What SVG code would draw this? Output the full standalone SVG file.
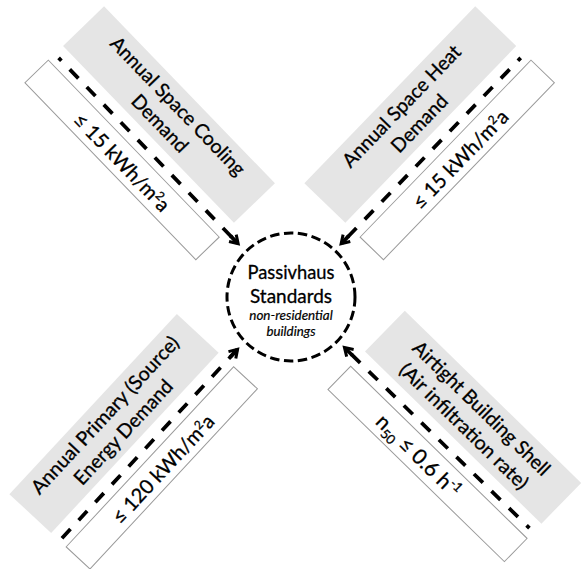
<svg xmlns="http://www.w3.org/2000/svg" width="583" height="569" viewBox="0 0 583 569">
<style>
  .bg{fill:#ffffff}
  .gray{fill:#e5e5e5;stroke:none}
  .box{fill:#ffffff;stroke:#9a9a9a;stroke-width:1}
  .lbl{font-family:Lato,"Liberation Sans",sans-serif;font-size:19.5px;fill:#000;stroke:#000;stroke-width:0.3;text-anchor:middle}
  .val{font-family:Lato,"Liberation Sans",sans-serif;font-size:20px;fill:#000;stroke:#000;stroke-width:0.3;text-anchor:middle}
  .main{font-family:Lato,"Liberation Sans",sans-serif;font-size:19.5px;fill:#000;stroke:#000;stroke-width:0.3;text-anchor:middle}
  .it{font-family:Lato,"Liberation Sans",sans-serif;font-size:13px;font-style:italic;fill:#000;stroke:#000;stroke-width:0.2;text-anchor:middle}
  .sup{font-size:12px}
  .conn{fill:none;stroke:#000;stroke-width:3.75;stroke-dasharray:12.5 12;marker-end:url(#arr)}
  .ring{fill:none;stroke:#000;stroke-width:3;stroke-dasharray:9.5 4.5}
</style>
<defs>
  <marker id="arr" viewBox="-13 -7 16 14" refX="0" refY="0" markerWidth="16" markerHeight="14" markerUnits="userSpaceOnUse" orient="auto" overflow="visible">
    <path d="M-11,0 L-1,0" fill="none" stroke="#000" stroke-width="3.75" stroke-dasharray="none"/>
    <path d="M-8,-5 L0,0 L-8,5" fill="none" stroke="#000" stroke-width="3" stroke-dasharray="none"/>
  </marker>
</defs>
<rect class="bg" x="0" y="0" width="583" height="569"/>

<!-- Top-left arm -->
<g id="node-cooling" transform="translate(60,59.3) rotate(46)">
  <rect class="gray" x="-7.5" y="-68.5" width="246" height="57"/>
  <text class="lbl" x="115.5" y="-45.5" textLength="184" lengthAdjust="spacingAndGlyphs">Annual Space Cooling</text>
  <text class="lbl" x="115.5" y="-20.5" textLength="72" lengthAdjust="spacingAndGlyphs">Demand</text>
</g>
<g id="value-cooling" transform="translate(60,59.3) rotate(46)">
  <rect class="box" x="-7.5" y="9" width="246" height="32.5"/>
  <text class="val" x="117" y="34">≤ 15 kWh/m<tspan class="sup" dy="-7">2</tspan><tspan dy="7">a</tspan></text>
</g>

<!-- Top-right arm -->
<g id="node-heat" transform="translate(519.3,59.3) rotate(-46)">
  <rect class="gray" x="-238.5" y="-68.5" width="246" height="57"/>
  <text class="lbl" x="-115.5" y="-45.5" textLength="161" lengthAdjust="spacingAndGlyphs">Annual Space Heat</text>
  <text class="lbl" x="-115.5" y="-20.5" textLength="72" lengthAdjust="spacingAndGlyphs">Demand</text>
</g>
<g id="value-heat" transform="translate(519.3,59.3) rotate(-46)">
  <rect class="box" x="-238.5" y="9" width="246" height="32.5"/>
  <text class="val" x="-113" y="34">≤ 15 kWh/m<tspan class="sup" dy="-7">2</tspan><tspan dy="7">a</tspan></text>
</g>

<!-- Bottom-left arm -->
<g id="node-primary" transform="translate(64,536) rotate(-47.1)">
  <rect class="gray" x="-6.5" y="-68.5" width="246" height="57"/>
  <text class="lbl" x="116.5" y="-45.5" textLength="207" lengthAdjust="spacingAndGlyphs">Annual Primary (Source)</text>
  <text class="lbl" x="116.5" y="-20.5" textLength="135" lengthAdjust="spacingAndGlyphs">Energy Demand</text>
</g>
<g id="value-primary" transform="translate(64,536) rotate(-47.1)">
  <rect class="box" x="-6.5" y="9" width="246" height="32.5"/>
  <text class="val" x="116.5" y="34">≤ 120 kWh/m<tspan class="sup" dy="-7">2</tspan><tspan dy="7">a</tspan></text>
</g>

<!-- Bottom-right arm -->
<g id="node-airtight" transform="translate(528,526.7) rotate(44.3)">
  <rect class="gray" x="-239" y="-68.5" width="246.5" height="57"/>
  <text class="lbl" x="-116" y="-45.5" textLength="183" lengthAdjust="spacingAndGlyphs">Airtight Building Shell</text>
  <text class="lbl" x="-116" y="-20.5" textLength="171" lengthAdjust="spacingAndGlyphs">(Air infiltration rate)</text>
</g>
<g id="value-airtight" transform="translate(528,526.7) rotate(44.3)">
  <rect class="box" x="-239" y="9" width="246.5" height="32.5"/>
  <text class="val" x="-128" y="33" style="font-size:21px">n<tspan class="sup" style="font-size:13px" dy="5">50</tspan><tspan dy="-5"> ≤ 0.6 h</tspan><tspan class="sup" style="font-size:13px" dy="-8">-1</tspan></text>
</g>

<!-- Connectors -->
<g id="connectors">
  <line class="conn" transform="translate(60,59.3) rotate(46)" x1="-2" y1="0" x2="256.5" y2="0" stroke-dashoffset="8.5"/>
  <line class="conn" transform="translate(519.3,59.3) rotate(-46)" x1="2" y1="0" x2="-256.5" y2="0" stroke-dashoffset="8.5"/>
  <line class="conn" transform="translate(64,536) rotate(-47.1)" x1="-3" y1="0" x2="255" y2="0" stroke-dashoffset="0"/>
  <line class="conn" transform="translate(528,526.7) rotate(44.3)" x1="2" y1="0" x2="-256.5" y2="0" stroke-dashoffset="8.5"/>
</g>

<!-- Center node -->
<g id="node-passivhaus">
  <circle class="ring" cx="291" cy="297" r="64"/>
  <text class="main" x="291" y="279" textLength="87" lengthAdjust="spacingAndGlyphs">Passivhaus</text>
  <text class="main" x="291" y="302.5" textLength="82" lengthAdjust="spacingAndGlyphs">Standards</text>
  <text class="it" x="291" y="320" textLength="83.5" lengthAdjust="spacingAndGlyphs">non-residential</text>
  <text class="it" x="291" y="336" textLength="49" lengthAdjust="spacingAndGlyphs">buildings</text>
</g>
</svg>
